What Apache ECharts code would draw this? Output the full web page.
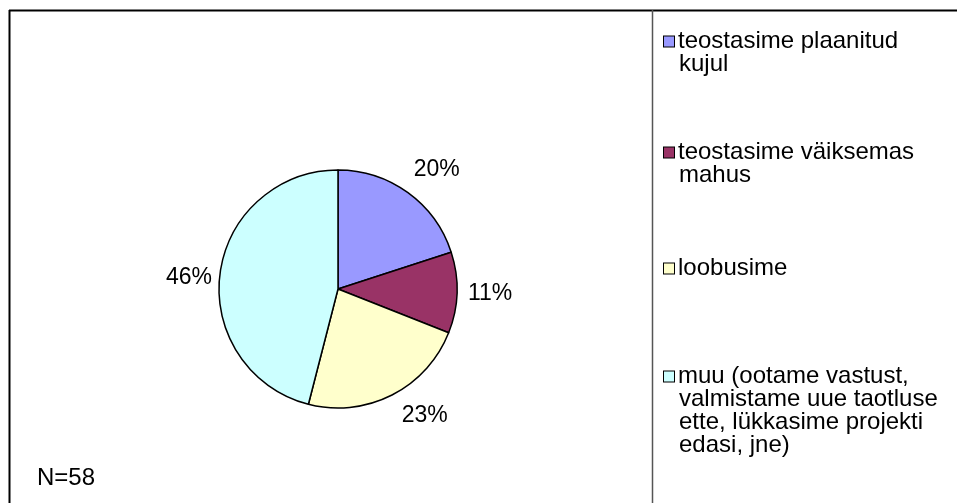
<!DOCTYPE html>
<html>
<head>
<meta charset="utf-8">
<style>
html,body{margin:0;padding:0;background:#fff;}
#chart{width:957px;height:503px;}
</style>
<script src="https://cdn.jsdelivr.net/npm/echarts@6/dist/echarts.min.js"></script>
</head>
<body>
<div id="chart"></div>
<script>
// ---- data ----
var categories = ['teostasime plaanitud kujul', 'teostasime väiksemas mahus', 'loobusime', 'muu (ootame vastust, valmistame uue taotluse ette, lükkasime projekti edasi, jne)'];
var legendLines = [
  ['teostasime plaanitud', 'kujul'],
  ['teostasime väiksemas', 'mahus'],
  ['loobusime'],
  ['muu (ootame vastust,', 'valmistame uue taotluse', 'ette, lükkasime projekti', 'edasi, jne)']
];
var shares = [20, 11, 23, 46];
var sampleNote = 'N=58';

// ---- style ----
var colors = ['#9999FF', '#993366', '#FFFFCC', '#CCFFFF'];
var FONT = '"Liberation Sans", Arial, sans-serif';
var CX = 338, CY = 289, R = 119;
var LEG_FS = 24, LEG_LH = 23;
var LBL_FS = 23;
var legendFirstLineY = [41, 152, 268, 376];
var labelNudge = [[2, -3], [0, 0], [12, -1], [3, 7]];

var chart = echarts.init(document.getElementById('chart'), null, {renderer: 'canvas'});

var total = shares.reduce(function (a, b) { return a + b; }, 0);
var midDirs = [];
(function () {
  var acc = 0;
  for (var i = 0; i < shares.length; i++) {
    var mid = (acc + shares[i] / 2) / total * Math.PI * 2;
    midDirs.push([Math.sin(mid), -Math.cos(mid)]);
    acc += shares[i];
  }
})();

function clamp(v) { return Math.max(-1, Math.min(1, v)); }

var rich = {
  sp: {width: 4, height: 11, lineHeight: LEG_LH},
  ind: {width: 15, height: 11, lineHeight: LEG_LH},
  t: {fontSize: LEG_FS, fontFamily: FONT, color: '#000', lineHeight: LEG_LH}
};
colors.forEach(function (c, i) {
  rich['b' + i] = {width: 10, height: 10, backgroundColor: c, borderColor: '#000', borderWidth: 1, lineHeight: LEG_LH};
});

var legends = categories.map(function (name, i) {
  return {
    data: [name],
    orient: 'vertical',
    left: 659,
    top: legendFirstLineY[i] - LEG_LH / 2,
    padding: 0,
    icon: 'none',
    itemWidth: 0,
    itemHeight: 11,
    selectedMode: false,
    textStyle: {fontSize: LEG_FS, fontFamily: FONT, color: '#000', lineHeight: LEG_LH, rich: rich},
    formatter: function (n) {
      var idx = categories.indexOf(n);
      var lines = legendLines[idx];
      return lines.map(function (ln, k) {
        return (k === 0 ? '{b' + idx + '| }{sp| }' : '{ind| }') + '{t|' + ln + '}';
      }).join('\n');
    }
  };
});

var option = {
  backgroundColor: '#fff',
  animation: false,
  color: colors,
  title: {
    text: sampleNote,
    left: 37,
    top: 466,
    padding: 0,
    textStyle: {fontSize: 24, fontWeight: 'normal', fontFamily: FONT, color: '#000'}
  },
  legend: legends,
  graphic: [
    {type: 'line', shape: {x1: 9, y1: 10.5, x2: 957, y2: 10.5}, style: {stroke: '#000', lineWidth: 2}, silent: true},
    {type: 'line', shape: {x1: 9.5, y1: 10, x2: 9.5, y2: 503}, style: {stroke: '#000', lineWidth: 2}, silent: true},
    {type: 'line', shape: {x1: 652.5, y1: 10, x2: 652.5, y2: 503}, style: {stroke: '#555', lineWidth: 1.5}, silent: true}
  ],
  series: [{
    type: 'pie',
    center: [CX, CY],
    radius: R,
    startAngle: 90,
    clockwise: true,
    avoidLabelOverlap: false,
    itemStyle: {borderColor: '#000', borderWidth: 1.5},
    emphasis: {scale: false},
    label: {
      show: true,
      position: 'outside',
      formatter: '{c}%',
      fontSize: LBL_FS,
      fontFamily: FONT,
      color: '#000'
    },
    labelLine: {show: false, length: 6, length2: 0},
    labelLayout: function (p) {
      var d = midDirs[p.dataIndex];
      var nd = labelNudge[p.dataIndex];
      var w = p.labelRect.width, h = p.labelRect.height;
      var g = 11;
      var px = CX + (R + g) * d[0];
      var py = CY + (R + g) * d[1];
      return {
        x: px + clamp(d[0] * 1.5) * w / 2 + nd[0],
        y: py + clamp(d[1] * 1.5) * h / 2 + nd[1],
        align: 'center',
        verticalAlign: 'middle'
      };
    },
    data: categories.map(function (n, i) { return {name: n, value: shares[i]}; })
  }]
};
chart.setOption(option);
</script>
</body>
</html>
